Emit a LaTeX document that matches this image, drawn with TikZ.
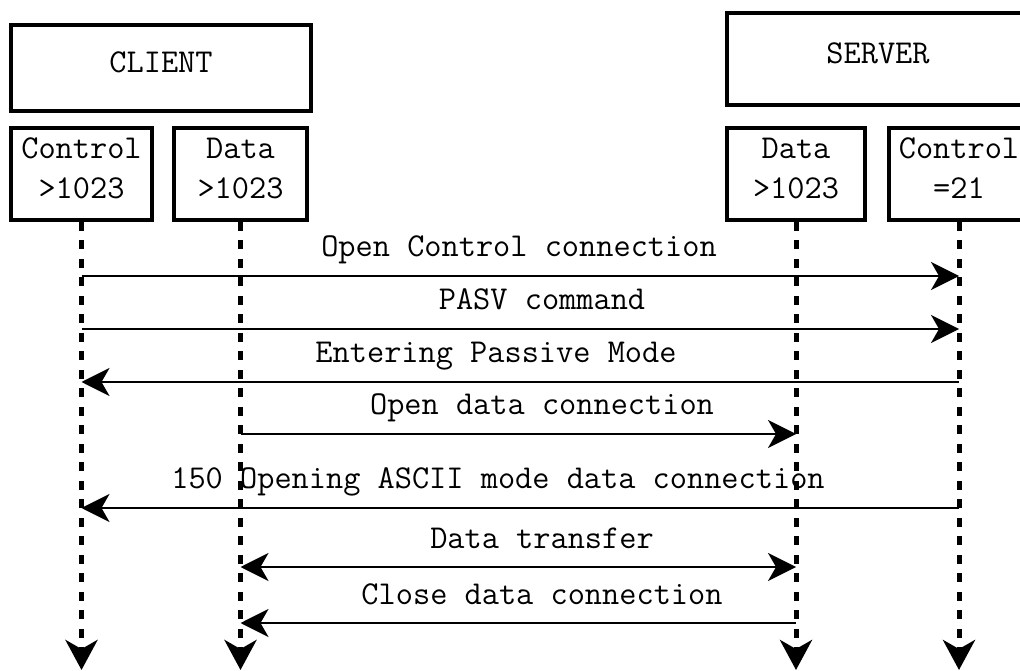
\documentclass[tikz,border=0pt]{standalone}
\usepackage{fontspec}
\usepackage{tikz}
\usetikzlibrary{arrows.meta,positioning}
\tikzstyle{hostbox}=[draw, line width=0.08cm, inner sep=0pt, align=center, text depth=7pt]
\tikzstyle{lifeline}=[line width=0.1cm, dash pattern=on 0.18cm off 0.19cm, -{Stealth[length=0.6cm,width=0.64cm,inset=0.18cm]}]
\tikzstyle{msg}=[line width=0.04cm]
\tikzstyle{msgtext}=[anchor=base, inner sep=0pt]

\begin{document}
\begin{tikzpicture}[x=0.02cm, y=-0.02cm,
  font=\ttfamily\fontsize{19pt}{22.8pt}\selectfont,
  >={Stealth[length=0.56cm,width=0.56cm,inset=0.16cm]}]
 \useasboundingbox (0,0) rectangle (1020,671);
 \clip (0,0) rectangle (1020,671);
% hosts and their ports
 \node[hostbox, minimum width=6cm, minimum height=1.72cm] (client) at (161,68) {CLIENT};
 \node[hostbox, minimum width=6.04cm, minimum height=1.84cm] (server) at (878,59) {SERVER};
 \node[hostbox, minimum width=2.82cm, minimum height=1.84cm] (cctl) at (81.5,174) {Control\\>1023};
 \node[hostbox, minimum width=2.66cm, minimum height=1.84cm] (cdat) at (240.5,174) {Data\\>1023};
 \node[hostbox, minimum width=2.76cm, minimum height=1.84cm] (sdat) at (796,174) {Data\\>1023};
 \node[hostbox, minimum width=2.8cm, minimum height=1.84cm] (sctl) at (959,174) {Control\\=21};
%
 \coordinate (bottom) at (0,670);
 \foreach \i/\y in {1/276,2/329,3/382,4/434,5/508,6/567,7/623}
  \coordinate (r\i) at (0,\y);
%
 \node[msgtext] (t1) at (519,257) {Open Control connection};
 \draw[msg,->] (cctl |- r1) -- (sctl |- r1);
 \node[msgtext] (t2) at (542,310) {PASV command};
 \draw[msg,->] (cctl |- r2) -- (sctl |- r2);
 \node[msgtext] (t3) at (496,363) {Entering Passive Mode};
 \draw[msg,<-] (cctl |- r3) -- (sctl |- r3);
 \node[msgtext] (t4) at (542,415) {Open data connection};
 \draw[msg,->] (cdat |- r4) -- (sdat |- r4);
 \node[msgtext] (t5) at (498,489) {150 Opening ASCII mode data connection};
 \draw[msg,<-] (cctl |- r5) -- (sctl |- r5);
 \node[msgtext] (t6) at (542,548) {Data transfer};
 \draw[msg,<->] (cdat |- r6) -- (sdat |- r6);
 \node[msgtext] (t7) at (542,604) {Close data connection};
 \draw[msg,<-] (cdat |- r7) -- (sdat |- r7);
%
 \foreach \n in {cctl,cdat,sdat,sctl}
  \draw[lifeline] (\n.south) -- (\n |- bottom);
\end{tikzpicture}
\end{document}
